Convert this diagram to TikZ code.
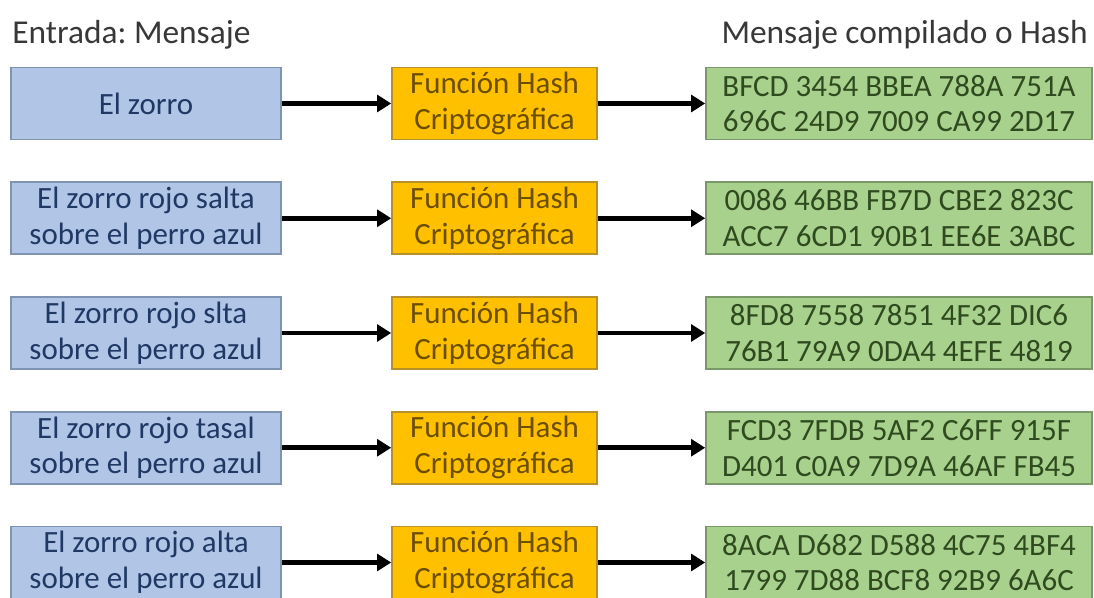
\documentclass[tikz,border=0pt]{standalone}
\usepackage{fontspec}
\setmainfont{Carlito}
\usepackage{xcolor}
\usepackage{tikz}
\definecolor{msgblue}{HTML}{B1C6E7}
\definecolor{msgborder}{HTML}{7F93B3}
\definecolor{msgtext}{HTML}{1F3864}
\definecolor{fnorange}{HTML}{FFC000}
\definecolor{fnborder}{HTML}{B8902A}
\definecolor{fntext}{HTML}{6B4E00}
\definecolor{outgreen}{HTML}{A9D18E}
\definecolor{outborder}{HTML}{7A9868}
\definecolor{outtext}{HTML}{2E4A1E}
\definecolor{titlegray}{HTML}{383838}
\usetikzlibrary{arrows.meta,positioning}
\frenchspacing
\tikzset{
  box/.style={draw, line width=0.9pt, minimum height=1.44cm, inner sep=0pt, align=center, font=\fontsize{17.6}{20.4}\selectfont},
  msgbox/.style={box, draw=msgborder, fill=msgblue, text=msgtext, minimum width=5.4cm},
  fnbox/.style={box, draw=fnborder, fill=fnorange, text=fntext, minimum width=4.1cm},
  outbox/.style={box, draw=outborder, fill=outgreen, text=outtext, minimum width=7.72cm},
  flow/.style={-{Triangle[length=8pt,width=9.5pt]}, line width=2.7pt, black},
  heading/.style={text=titlegray, font=\fontsize{19}{23}\selectfont, inner sep=0pt}
}
\begin{document}
\begin{tikzpicture}
    \useasboundingbox (0,0) rectangle (21.88,-11.96);
    \node[heading, anchor=base west] (inlabel) at (0.24,-0.88) {Entrada: Mensaje};
    \node[heading, anchor=base east] (outlabel) at (21.76,-0.88) {Mensaje compilado o Hash};

    \node[msgbox] (msg1) at (2.92,-2.07) {El zorro};
    \node[fnbox] (fn1) at (9.89,-2.07) {Función Hash\\Criptográfica};
    \node[outbox] (out1) at (17.98,-2.07) {BFCD 3454 BBEA 788A 751A\\696C 24D9 7009 CA99 2D17};

    \node[msgbox] (msg2) at (2.92,-4.365) {El zorro rojo salta\\sobre el perro azul};
    \node[fnbox] (fn2) at (9.89,-4.365) {Función Hash\\Criptográfica};
    \node[outbox] (out2) at (17.98,-4.365) {0086 46BB FB7D CBE2 823C\\ACC7 6CD1 90B1 EE6E 3ABC};

    \node[msgbox] (msg3) at (2.92,-6.66) {El zorro rojo slta\\sobre el perro azul};
    \node[fnbox] (fn3) at (9.89,-6.66) {Función Hash\\Criptográfica};
    \node[outbox] (out3) at (17.98,-6.66) {8FD8 7558 7851 4F32 DIC6\\76B1 79A9 0DA4 4EFE 4819};

    \node[msgbox] (msg4) at (2.92,-8.955) {El zorro rojo tasal\\sobre el perro azul};
    \node[fnbox] (fn4) at (9.89,-8.955) {Función Hash\\Criptográfica};
    \node[outbox] (out4) at (17.98,-8.955) {FCD3 7FDB 5AF2 C6FF 915F\\D401 C0A9 7D9A 46AF FB45};

    \node[msgbox] (msg5) at (2.92,-11.25) {El zorro rojo alta\\sobre el perro azul};
    \node[fnbox] (fn5) at (9.89,-11.25) {Función Hash\\Criptográfica};
    \node[outbox] (out5) at (17.98,-11.25) {8ACA D682 D588 4C75 4BF4\\1799 7D88 BCF8 92B9 6A6C};

    \draw[flow] (msg1) -- (fn1);
    \draw[flow] (fn1) -- (out1);
    \draw[flow] (msg2) -- (fn2);
    \draw[flow] (fn2) -- (out2);
    \draw[flow] (msg3) -- (fn3);
    \draw[flow] (fn3) -- (out3);
    \draw[flow] (msg4) -- (fn4);
    \draw[flow] (fn4) -- (out4);
    \draw[flow] (msg5) -- (fn5);
    \draw[flow] (fn5) -- (out5);
\end{tikzpicture}
\end{document}
